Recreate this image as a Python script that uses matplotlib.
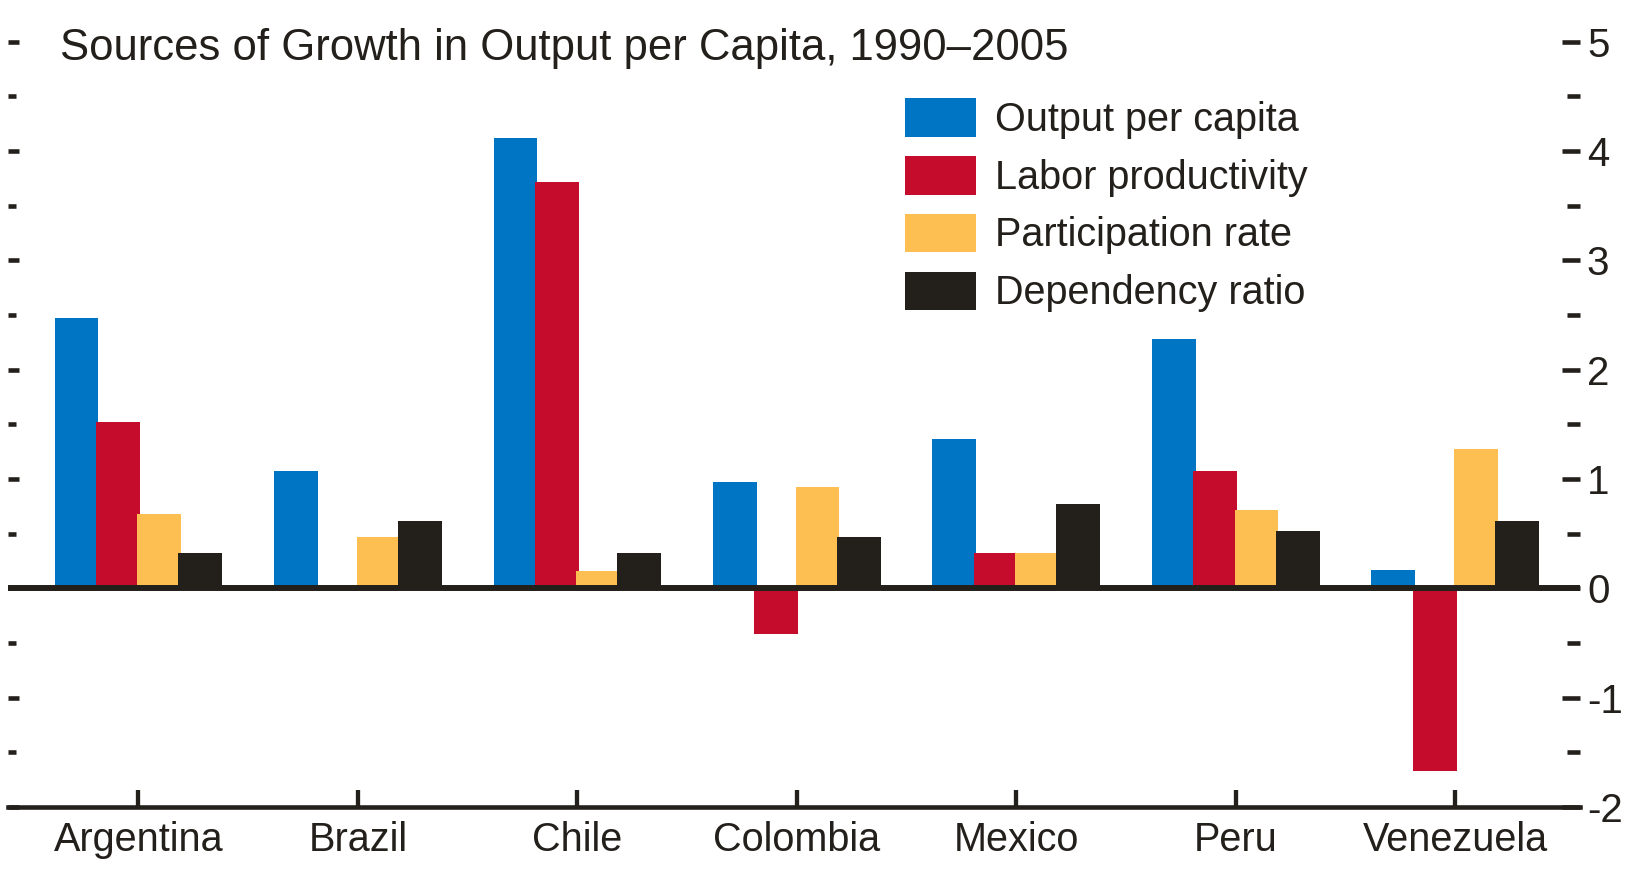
import numpy as np
import matplotlib
matplotlib.use("Agg")
import matplotlib.pyplot as plt
from matplotlib.ticker import MultipleLocator, FixedLocator, FixedFormatter

plt.rcParams['font.family'] = ['Liberation Sans', 'DejaVu Sans']

countries = ["Argentina", "Brazil", "Chile", "Colombia", "Mexico", "Peru", "Venezuela"]
output_pc = [2.47, 1.07, 4.12, 0.97, 1.37, 2.28, 0.17]
labor_prod = [1.52, 0.0, 3.72, -0.42, 0.32, 1.07, -1.67]
participation = [0.68, 0.47, 0.16, 0.93, 0.32, 0.72, 1.27]
dependency = [0.32, 0.62, 0.32, 0.47, 0.77, 0.52, 0.62]
series_names = ["Output per capita", "Labor productivity", "Participation rate", "Dependency ratio"]
y_ticks = [-2, -1, 0, 1, 2, 3, 4, 5]
y_labels = ["-2", "-1", "0", "1", "2", "3", "4", "5"]
title = "Sources of Growth in Output per Capita, 1990\u20132005"

colors = ["#0075C4", "#C60C2C", "#FDBE52", "#231F1B"]
ink = "#231F1B"

W, H = 1632, 873
fig = plt.figure(figsize=(W / 100, H / 100), dpi=100)
ax = fig.add_axes([8 / W, 1 - 807 / H, (1580 - 8) / W, (807 - 41.7) / H])

x = np.arange(len(countries))
step = 0.188
width = 0.2
handles = []
for k, vals in enumerate([output_pc, labor_prod, participation, dependency]):
    b = ax.bar(x + (k - 1.5) * step, vals, width, color=colors[k], zorder=2 + k,
               label=series_names[k], linewidth=0)
    handles.append(b)

ax.set_xlim(-0.594, 6.568)
ax.set_ylim(-2, 5)
ax.axhline(0, color=ink, lw=4.3, zorder=10)

for s in ["left", "right", "top"]:
    ax.spines[s].set_visible(False)
ax.spines["bottom"].set_color(ink)
ax.spines["bottom"].set_linewidth(3.3)
ax.spines["bottom"].set_zorder(10)

ax.set_xticks(x)
ax.set_xticklabels(countries, fontsize=28.5, color=ink)
ax.tick_params(axis="x", direction="in", length=12, width=3.1, color=ink, pad=10)

# left: unlabeled ticks every 0.5
ax.yaxis.set_major_locator(MultipleLocator(1))
ax.yaxis.set_minor_locator(MultipleLocator(0.5))
ax.tick_params(axis="y", which="major", direction="in", length=8, width=3.3,
               color=ink, labelleft=False)
ax.tick_params(axis="y", which="minor", direction="in", length=6, width=3.3, color=ink)

# right: labeled integers
ax2 = ax.twinx()
ax2.set_ylim(-2, 5)
for s in ax2.spines.values():
    s.set_visible(False)
ax2.yaxis.set_major_locator(FixedLocator(y_ticks))
ax2.yaxis.set_major_formatter(FixedFormatter(y_labels))
ax2.yaxis.set_minor_locator(MultipleLocator(0.5))
ax2.tick_params(axis="y", which="major", direction="in", length=13, width=3.3,
                color=ink, labelsize=29, labelcolor=ink, pad=5)
ax2.tick_params(axis="y", which="minor", direction="in", length=9.5, width=3.3, color=ink)

leg = fig.legend(handles=handles, loc="upper left",
                 bbox_to_anchor=(905 / W, 1 - 98 / H), frameon=False,
                 fontsize=28.5, handlelength=1.8, handleheight=1.13,
                 handletextpad=0.47, labelspacing=0.43, borderpad=0, borderaxespad=0)
for t in leg.get_texts():
    t.set_color(ink)

# title fitted to its width in the reference
tt = fig.text(60 / W, 1 - 60 / H, title, fontsize=36,
              color=ink, va="baseline", ha="left")
fig.canvas.draw()
wpx = tt.get_window_extent().width
tt.set_fontsize(36 * 1007 / wpx)

fig.savefig("out.png", dpi=100)
